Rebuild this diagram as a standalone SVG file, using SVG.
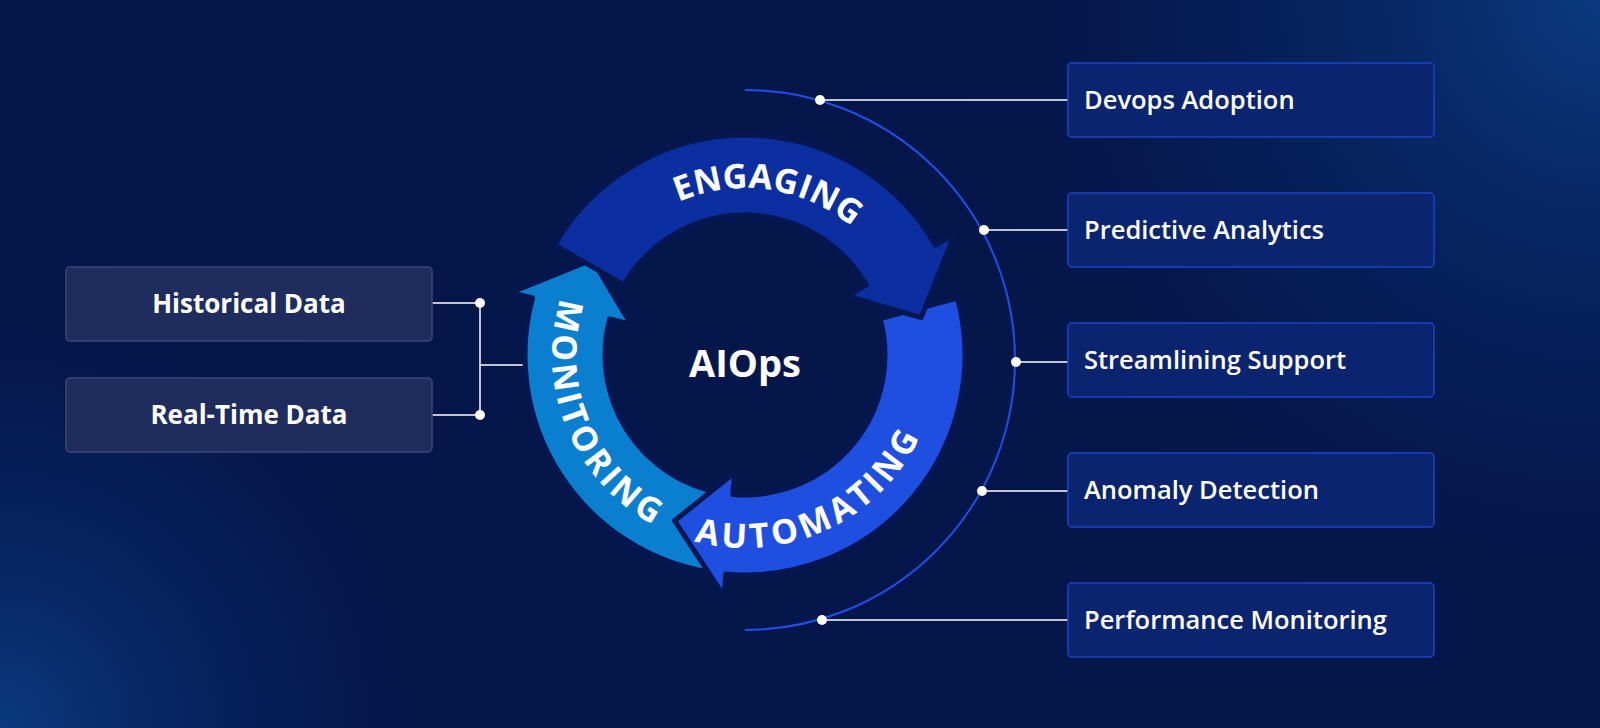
<svg xmlns="http://www.w3.org/2000/svg" width="1600" height="728" viewBox="0 0 1600 728">
<defs>
<radialGradient id="g1" cx="1600" cy="0" r="700" gradientUnits="userSpaceOnUse"><stop offset="0" stop-color="#0a3a80"/><stop offset="1" stop-color="#05164a" stop-opacity="0"/></radialGradient>
<radialGradient id="g2" cx="0" cy="728" r="500" gradientUnits="userSpaceOnUse"><stop offset="0" stop-color="#0a3a80"/><stop offset="1" stop-color="#05164a" stop-opacity="0"/></radialGradient>
<style>
.rb{fill:#0b2470;stroke:#1d44c8;stroke-width:1.5}
.lb{fill:#1f2d5e;stroke:#3a4878;stroke-width:1.5}
.rt{font-family:"Open Sans","Noto Sans",sans-serif;font-size:25.5px;font-weight:600;fill:#fff}
.lt{font-family:"Open Sans","Noto Sans",sans-serif;font-size:26px;font-weight:700;fill:#fff;text-anchor:middle}
.ln{stroke:#fff;stroke-width:1.5;fill:none}
.dot{fill:#fff}
.ct{font-family:"Open Sans","Noto Sans",sans-serif;font-size:34px;font-weight:700;fill:#fff;letter-spacing:2px}
.arr{stroke:#061650;stroke-width:5;stroke-linejoin:round}
</style>
<path id="pe" d="M575.9,293.4 A180 180 0 0 1 914.1,293.4"/>
<path id="pa" d="M683.4,524.1 A180 180 0 0 0 914.1,416.6"/>
<path id="pm" d="M597.6,251.8 A180 180 0 0 0 713.7,532.3"/>
</defs>
<rect width="1600" height="728" fill="#05164a"/>
<rect width="1600" height="728" fill="url(#g1)"/>
<rect width="1600" height="728" fill="url(#g2)"/>
<g id="connectors">
<path d="M745,90 A270 270 0 0 1 745,630" fill="none" stroke="#1f4fe8" stroke-width="2"/>
<line class="ln" x1="820" y1="100" x2="1068" y2="100"/><circle class="dot" cx="820" cy="100" r="5"/>
<line class="ln" x1="984" y1="230" x2="1068" y2="230"/><circle class="dot" cx="984" cy="230" r="5"/>
<line class="ln" x1="1016" y1="362" x2="1068" y2="362"/><circle class="dot" cx="1016" cy="362" r="5"/>
<line class="ln" x1="982" y1="491" x2="1068" y2="491"/><circle class="dot" cx="982" cy="491" r="5"/>
<line class="ln" x1="822" y1="620" x2="1068" y2="620"/><circle class="dot" cx="822" cy="620" r="5"/>
<path class="ln" d="M432,303 H480 V415 H432 M480,365 H527"/>
<circle class="dot" cx="480" cy="303" r="5"/><circle class="dot" cx="480" cy="415" r="5"/>
</g>
<g id="monitoring"><path class="arr" fill="#0a7fd0" d="M706.8,571.7 A220 220 0 0 1 532.5,298 L511.2,292.4 L592.4,259.6 L631,324.5 L609.8,318.8 A140 140 0 0 0 720.7,492.9 Z"/>
<text class="ct"><textPath href="#pm" startOffset="50%" text-anchor="middle" dominant-baseline="central">MONITORING</textPath></text></g>
<g id="automating"><path class="arr" fill="#1f4fe0" d="M957.5,298 A220 220 0 0 1 725.8,574.1 L723.9,596.1 L674.6,520.7 L734.7,472.5 L732.8,494.4 A140 140 0 0 0 880.2,318.7 Z"/>
<text class="ct"><textPath href="#pa" startOffset="50%" text-anchor="middle" dominant-baseline="central">AUTOMATING</textPath></text></g>
<g id="engaging"><path class="arr" fill="#0b2ea0" d="M554.5,245 A220 220 0 0 1 935.5,245 L954.6,234 L921.1,317.6 L847.2,296 L866.2,285 A140 140 0 0 0 623.8,285 Z"/>
<text class="ct"><textPath href="#pe" startOffset="56%" text-anchor="middle" dominant-baseline="central">ENGAGING</textPath></text></g>
<g id="aiops"><text x="745" y="377" font-family="Open Sans, sans-serif" font-size="38" font-weight="700" fill="#fff" text-anchor="middle">AIOps</text></g>
<g id="historical"><rect class="lb" x="66" y="267" width="366" height="74" rx="4"/><text class="lt" x="249" y="313">Historical Data</text></g>
<g id="realtime"><rect class="lb" x="66" y="378" width="366" height="74" rx="4"/><text class="lt" x="249" y="424">Real-Time Data</text></g>
<g id="devops"><rect class="rb" x="1068" y="63" width="366" height="74" rx="4"/><text class="rt" x="1084" y="109">Devops Adoption</text></g>
<g id="predictive"><rect class="rb" x="1068" y="193" width="366" height="74" rx="4"/><text class="rt" x="1084" y="239">Predictive Analytics</text></g>
<g id="streamlining"><rect class="rb" x="1068" y="323" width="366" height="74" rx="4"/><text class="rt" x="1084" y="369">Streamlining Support</text></g>
<g id="anomaly"><rect class="rb" x="1068" y="453" width="366" height="74" rx="4"/><text class="rt" x="1084" y="499">Anomaly Detection</text></g>
<g id="performance"><rect class="rb" x="1068" y="583" width="366" height="74" rx="4"/><text class="rt" x="1084" y="629">Performance Monitoring</text></g>
</svg>
